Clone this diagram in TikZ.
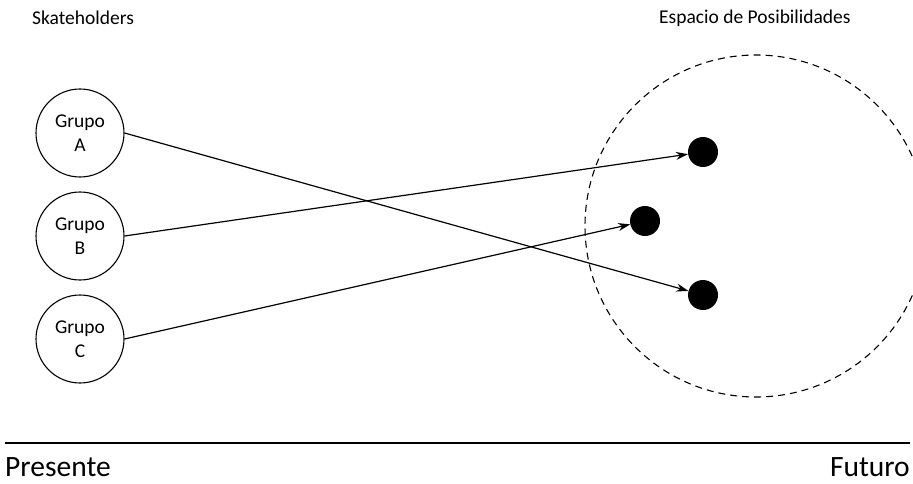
\documentclass[tikz,border=0pt]{standalone}
\usepackage{fontspec}
\setmainfont{Carlito}
\usetikzlibrary{arrows.meta}
\begin{document}
\begin{tikzpicture}[x=1pt,y=-1pt,
  grp/.style={draw,circle,line width=1.1pt,minimum size=88pt,inner sep=0pt,align=center,font=\fontsize{19.5}{24}\selectfont},
  dot/.style={circle,fill=black,minimum size=30pt,inner sep=0pt},
  conn/.style={line width=1.2pt,-{Stealth[length=12pt,width=8pt]}},
  lbl/.style={inner sep=0pt,font=\fontsize{19.5}{22}\selectfont},
  big/.style={inner sep=0pt,font=\fontsize{29.5}{33}\selectfont}]
\useasboundingbox (0,0) rectangle (913,484);
\node[lbl,anchor=west] (sk) at (32,18) {Skateholders};
\node[lbl,anchor=west] (es) at (659,18) {Espacio de Posibilidades};
\begin{scope}
\clip (0,0) rectangle (913,484);
\node[draw,dashed,circle,line width=1.1pt,minimum size=342pt,inner sep=0pt,dash pattern=on 7pt off 5pt] (space) at (756,226) {};
\end{scope}
\node[grp] (A) at (80,133) {Grupo\\A};
\node[grp] (B) at (80,236) {Grupo\\B};
\node[grp] (C) at (80,339) {Grupo\\C};
\node[dot] (d1) at (703,152) {};
\node[dot] (d2) at (645,221) {};
\node[dot] (d3) at (703,295) {};
\draw[conn] (A.east) -- (d3);
\draw[conn] (B.east) -- (d1);
\draw[conn] (C.east) -- (d2);
\coordinate (l1) at (5,443);
\coordinate (l2) at (910,443);
\draw[line width=2.6pt] (l1) -- (l2);
\node[big,anchor=west] (pr) at (5,467) {Presente};
\node[big,anchor=east] (fu) at (910,467) {Futuro};
\end{tikzpicture}
\end{document}
